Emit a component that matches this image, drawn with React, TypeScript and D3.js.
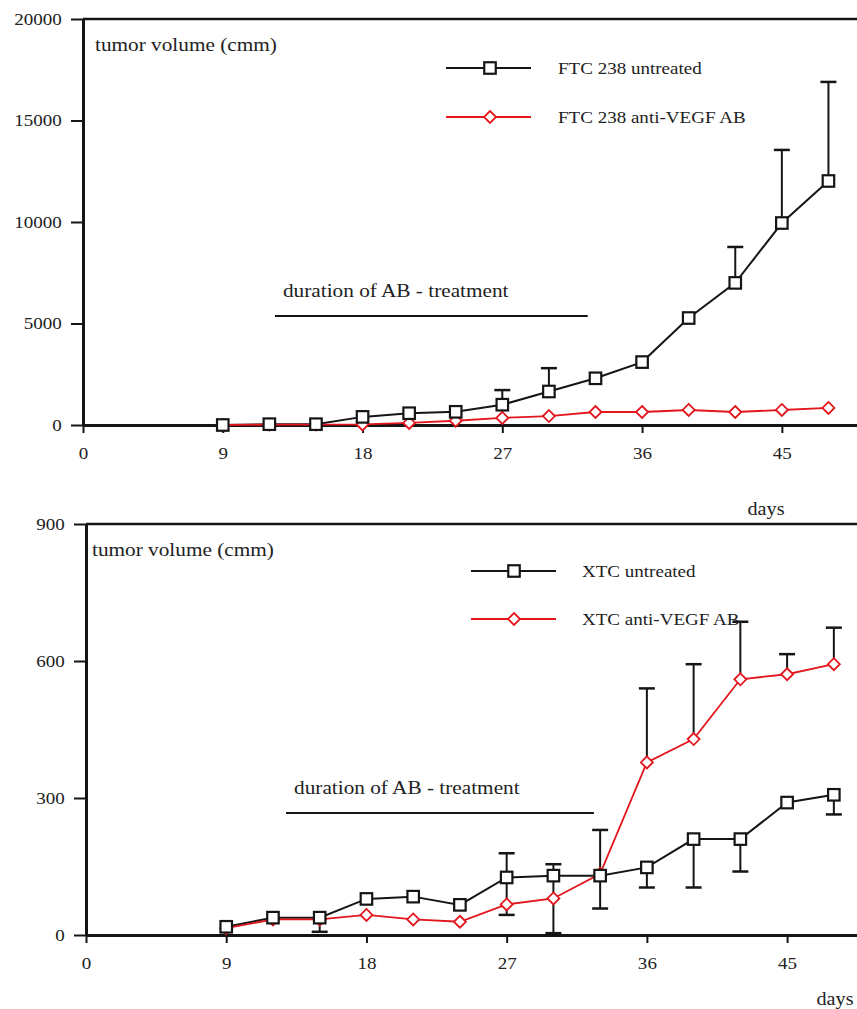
import React, { useRef, useEffect } from "react";
import * as d3 from "d3";

// days when tumors were measured
const days = [9, 12, 15, 18, 21, 24, 27, 30, 33, 36, 39, 42, 45, 48];
const xTicks = [0, 9, 18, 27, 36, 45];

// FTC 238 (top panel)
const ftcUntreated = [0, 40, 40, 400, 580, 650, 1000, 1650, 2300, 3100, 5270, 7000, 9950, 12020];
const ftcAntiVegf = [0, 20, 20, 30, 100, 210, 350, 440, 640, 640, 740, 640, 740, 840];
const ftcErrDays = [27, 30, 42, 45, 48];
const ftcErrFrom = [1000, 1650, 7000, 9950, 12020];
const ftcErrTo = [1720, 2800, 8770, 13550, 16900];
const ftcYTicks = [0, 5000, 10000, 15000, 20000];
const ftcTreatment = [12.36, 32.5];
const ftcTreatmentLevel = 5370;

// XTC (bottom panel)
const xtcUntreated = [18, 38, 38, 79, 84, 66, 126, 130, 130, 148, 210, 210, 290, 307];
const xtcAntiVegf = [15, 34, 34, 44, 34, 29, 67, 80, 134, 378, 429, 560, 571, 593];
const xtcErrDays = [15, 27, 27, 30, 30, 33, 33, 36, 36, 39, 39, 42, 42, 45, 48, 48];
const xtcErrFrom = [38, 126, 126, 130, 130, 130, 130, 148, 378, 210, 429, 210, 560, 571, 593, 307];
const xtcErrTo = [7, 179, 44, 155, 4, 230, 58, 104, 540, 104, 593, 139, 686, 615, 673, 264];
const xtcYTicks = [0, 300, 600, 900];
const xtcTreatment = [12.84, 32.6];
const xtcTreatmentLevel = 267;

const RED = "#e3161d";
const INK = "#151515";
const FONT = "'Liberation Serif', 'Times New Roman', serif";
const SX = 1.12; // the original type is a bit wide

function stretchedText(g, x, y, txt, size, anchor = "start") {
  g.append("g")
    .attr("transform", `translate(${x},${y})`)
    .append("text")
    .attr("transform", `scale(${SX},1)`)
    .attr("font-family", FONT)
    .attr("font-size", size)
    .attr("fill", "#222")
    .attr("text-anchor", anchor)
    .text(txt);
}

function diamond(r) {
  return `M0,${-r}L${r},0L0,${r}L${-r},0Z`;
}

function drawChart(svg, c) {
  const x = d3.scaleLinear().domain([0, c.xMax]).range([c.left, 857]);
  const y = d3.scaleLinear().domain([0, c.yMax]).range([c.bottom, c.top]);
  const g = svg.append("g");

  // frame line on top
  g.append("line")
    .attr("x1", x(0)).attr("x2", x(c.xMax))
    .attr("y1", y(c.yMax)).attr("y2", y(c.yMax))
    .attr("stroke", INK).attr("stroke-width", 2.5);

  const ya = g.append("g")
    .attr("transform", `translate(${x(0)},0)`)
    .call(d3.axisLeft(y).tickValues(c.yTicks).tickSize(12).tickSizeOuter(0).tickPadding(7).tickFormat(d3.format("d")));
  ya.select(".domain").attr("stroke", INK).attr("stroke-width", 3);
  ya.selectAll(".tick line").attr("stroke", INK).attr("stroke-width", 2);
  ya.selectAll("text").attr("font-family", FONT).attr("font-size", 17).attr("fill", "#222").attr("transform", `scale(${SX},1)`);

  const xa = g.append("g")
    .attr("transform", `translate(0,${y(0)})`)
    .call(d3.axisBottom(x).tickValues(xTicks).tickSize(8).tickSizeOuter(0).tickPadding(14));
  xa.select(".domain").attr("stroke", INK).attr("stroke-width", 3);
  xa.selectAll(".tick line").attr("stroke", INK).attr("stroke-width", 2);
  xa.selectAll("text").attr("font-family", FONT).attr("font-size", 17).attr("fill", "#222").attr("transform", `scale(${SX},1)`);

  stretchedText(g, x(0) + c.labelDx, y(c.yMax) + 32, "tumor volume (cmm)", 19);
  stretchedText(g, c.daysX, c.daysY, "days", 18, "middle");

  // treatment period
  g.append("line")
    .attr("x1", x(c.treat[0])).attr("x2", x(c.treat[1]))
    .attr("y1", y(c.treatLevel)).attr("y2", y(c.treatLevel))
    .attr("stroke", INK).attr("stroke-width", 2);
  stretchedText(g, x(c.treat[0]) + 8, y(c.treatLevel) - 19, "duration of AB - treatment", 19);

  // error bars
  const eb = g.append("g").attr("stroke", INK);
  c.errDays.forEach((d, i) => {
    eb.append("line")
      .attr("x1", x(d)).attr("x2", x(d))
      .attr("y1", y(c.errFrom[i])).attr("y2", y(c.errTo[i]))
      .attr("stroke-width", 2);
    eb.append("line")
      .attr("x1", x(d) - 8).attr("x2", x(d) + 8)
      .attr("y1", y(c.errTo[i])).attr("y2", y(c.errTo[i]))
      .attr("stroke-width", 2.5);
  });

  const line = d3.line<number>().x((d, i) => x(days[i])).y((d) => y(d));
  g.append("path").datum(c.untreated).attr("d", line).attr("fill", "none").attr("stroke", INK).attr("stroke-width", 2);
  g.append("path").datum(c.treated).attr("d", line).attr("fill", "none").attr("stroke", RED).attr("stroke-width", 1.8);

  g.selectAll(".dia").data(c.treated).enter().append("path")
    .attr("class", "dia")
    .attr("transform", (d, i) => `translate(${x(days[i])},${y(d)})`)
    .attr("d", diamond(6))
    .attr("fill", "#fff").attr("stroke", RED).attr("stroke-width", 1.8);
  g.selectAll(".sq").data(c.untreated).enter().append("rect")
    .attr("class", "sq")
    .attr("x", (d, i) => x(days[i]) - 5.75)
    .attr("y", (d) => y(d) - 5.75)
    .attr("width", 11.5).attr("height", 11.5)
    .attr("fill", "#fff").attr("stroke", INK).attr("stroke-width", 2.2);

  // legend
  const L = c.legend;
  const lg = g.append("g");
  lg.append("line").attr("x1", L.x1).attr("x2", L.x2).attr("y1", L.y1).attr("y2", L.y1).attr("stroke", INK).attr("stroke-width", 2);
  lg.append("rect").attr("x", L.mx - 5.75).attr("y", L.y1 - 5.75).attr("width", 11.5).attr("height", 11.5)
    .attr("fill", "#fff").attr("stroke", INK).attr("stroke-width", 2.2);
  lg.append("line").attr("x1", L.x1).attr("x2", L.x2).attr("y1", L.y2).attr("y2", L.y2).attr("stroke", RED).attr("stroke-width", 1.8);
  lg.append("path").attr("transform", `translate(${L.mx},${L.y2})`).attr("d", diamond(6))
    .attr("fill", "#fff").attr("stroke", RED).attr("stroke-width", 1.8);
  stretchedText(lg, L.tx, L.y1 + 6, c.names[0], 17);
  stretchedText(lg, L.tx, L.y2 + 6, c.names[1], 17);
}

export default function App() {
  const ref = useRef<SVGSVGElement>(null);

  useEffect(() => {
    const svg = d3.select(ref.current);
    svg.selectAll("*").remove();

    drawChart(svg, {
      left: 83, top: 19, bottom: 425, xMax: (857 - 83) / 15.53, yMax: 20000,
      yTicks: ftcYTicks, untreated: ftcUntreated, treated: ftcAntiVegf,
      errDays: ftcErrDays, errFrom: ftcErrFrom, errTo: ftcErrTo,
      treat: ftcTreatment, treatLevel: ftcTreatmentLevel,
      labelDx: 12, daysX: 766, daysY: 515,
      legend: { x1: 446, x2: 531, mx: 490, y1: 68, y2: 117, tx: 558 },
      names: ["FTC 238 untreated", "FTC 238 anti-VEGF AB"],
    });

    drawChart(svg, {
      left: 86, top: 524, bottom: 935, xMax: (857 - 86) / 15.58, yMax: 900,
      yTicks: xtcYTicks, untreated: xtcUntreated, treated: xtcAntiVegf,
      errDays: xtcErrDays, errFrom: xtcErrFrom, errTo: xtcErrTo,
      treat: xtcTreatment, treatLevel: xtcTreatmentLevel,
      labelDx: 6, daysX: 835, daysY: 1005,
      legend: { x1: 471, x2: 556, mx: 514, y1: 571, y2: 619, tx: 582 },
      names: ["XTC untreated", "XTC anti-VEGF AB"],
    });
  }, []);

  return (
    <svg
      ref={ref}
      width={857}
      height={1009}
      style={{ position: "absolute", left: 0, top: 0, background: "#fff" }}
    />
  );
}
